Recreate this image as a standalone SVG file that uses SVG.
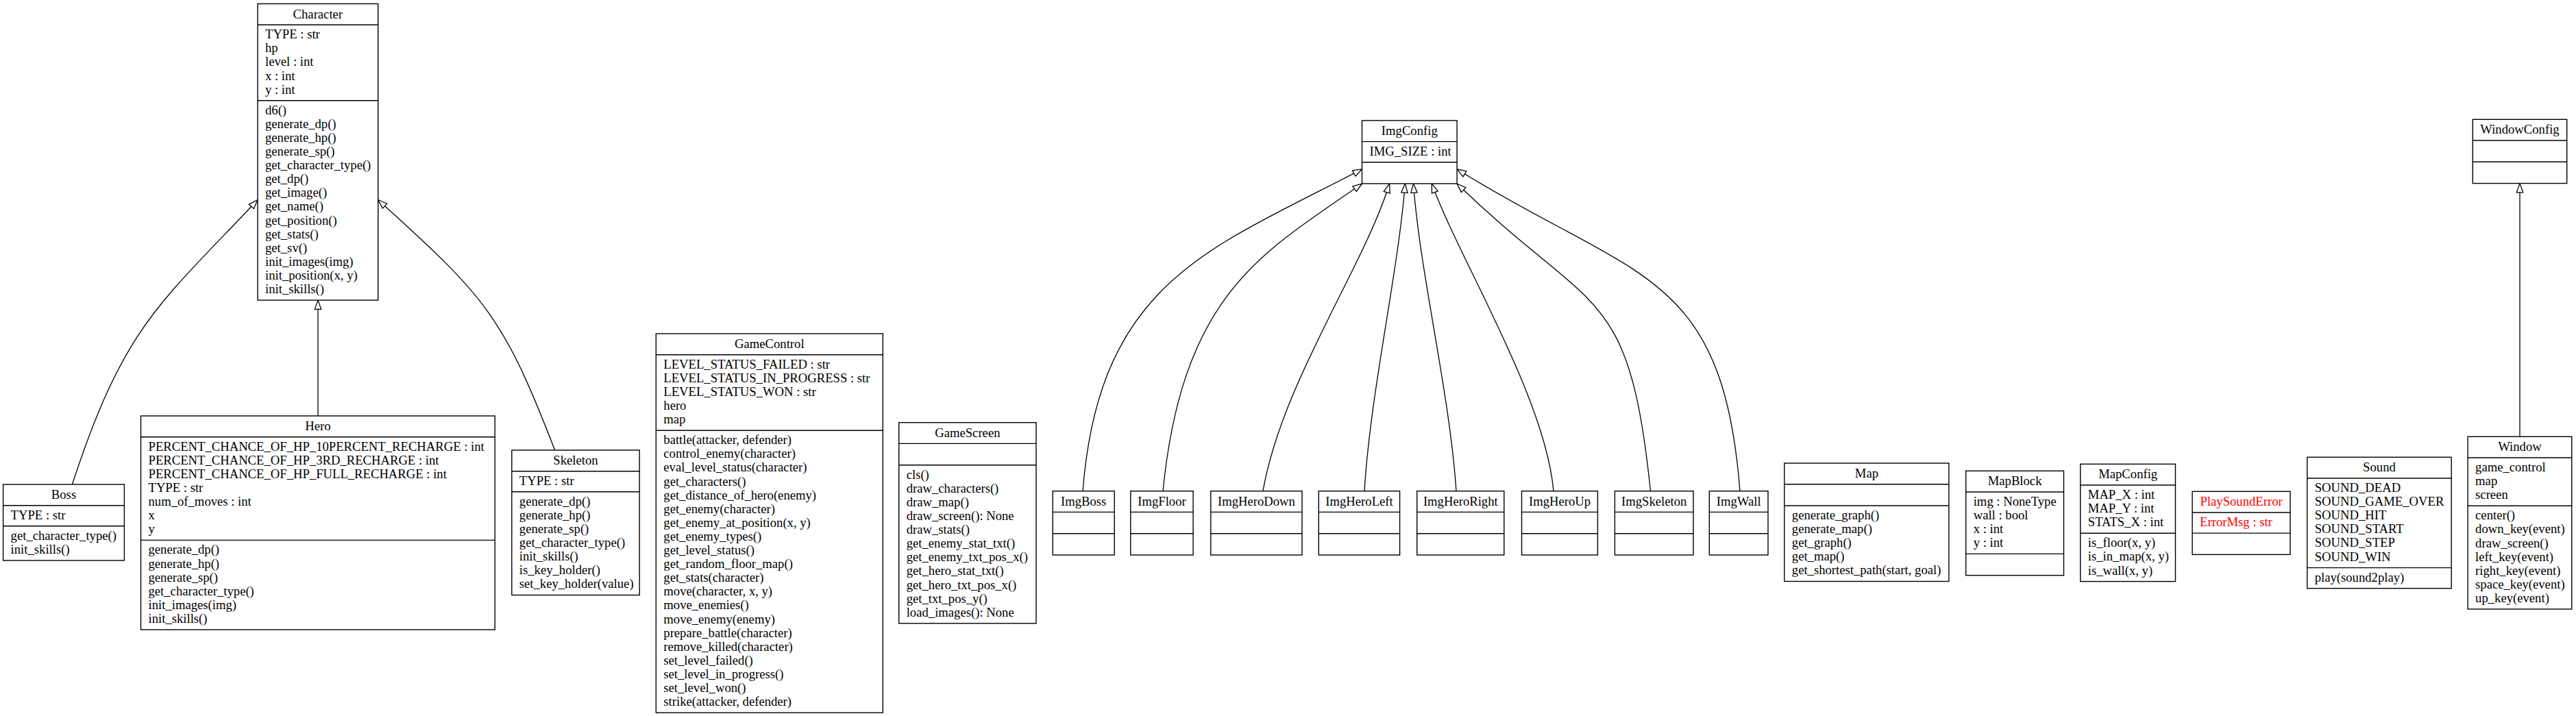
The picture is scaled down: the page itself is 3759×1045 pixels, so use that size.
<svg xmlns="http://www.w3.org/2000/svg" width="3759" height="1045" viewBox="0 0 3759 1045">
<style>
.box{fill:#fff;stroke:#000;stroke-width:1.4}
.sep{stroke:#000;stroke-width:1.4}
text{font-family:"Liberation Serif","Times New Roman",serif;font-size:18.67px;fill:#000}
.c{text-anchor:middle}
.red{fill:#ff0000}
.edge{fill:none;stroke:#000;stroke-width:1.3;marker-end:url(#inh)}
</style>
<defs>
<marker id="inh" markerUnits="userSpaceOnUse" markerWidth="16" markerHeight="12" viewBox="0 0 16 12" refX="14.3" refY="6" orient="auto">
<path d="M1,1.3 L14.3,6 L1,10.7 Z" fill="#fff" stroke="#000" stroke-width="1.3"/>
</marker>
</defs>
<rect width="3759" height="1045" fill="#fff"/>

<g id="edges">
<path class="edge" d="M105.4,707 C181.5,475.1 231.4,445.3 376,291.7"/>
<path class="edge" d="M464,607 L464,438.1"/>
<path class="edge" d="M809.7,657 C734.2,462 710.5,435.2 551.7,291.7"/>
<path class="edge" d="M1580,716.7 C1604.5,409.5 1766.3,362.8 1987.5,246.9"/>
<path class="edge" d="M1697,716.7 C1726.2,424.3 1845.6,367.6 1987.5,268"/>
<path class="edge" d="M1843,716.7 C1870,560 1990,390 2027.6,268"/>
<path class="edge" d="M1991,716.7 C2000,570 2040,400 2050.4,268"/>
<path class="edge" d="M2125,716.7 C2115,570 2072,400 2062.5,268"/>
<path class="edge" d="M2267,716.7 C2255,580 2130,380 2089.3,268"/>
<path class="edge" d="M2408.5,716.7 C2376.7,410.3 2325,461.6 2126.1,268"/>
<path class="edge" d="M2539,716.7 C2513.6,390.3 2384.7,408.6 2126.1,246.9"/>
<path class="edge" d="M3677,637.3 L3677,267.6"/>
</g>

<g id="Character">
<rect class="box" x="376" y="5.5" width="175.7" height="432.6"/>
<line class="sep" x1="376" y1="36.2" x2="551.7" y2="36.2"/>
<line class="sep" x1="376" y1="146.7" x2="551.7" y2="146.7"/>
<text class="c" x="463.85" y="26.5">Character</text>
<text x="387" y="56.2"><tspan x="387">TYPE : str</tspan><tspan x="387" dy="20.1">hp</tspan><tspan x="387" dy="20.1">level : int</tspan><tspan x="387" dy="20.1">x : int</tspan><tspan x="387" dy="20.1">y : int</tspan></text>
<text x="387" y="166.7"><tspan x="387">d6()</tspan><tspan x="387" dy="20.1">generate_dp()</tspan><tspan x="387" dy="20.1">generate_hp()</tspan><tspan x="387" dy="20.1">generate_sp()</tspan><tspan x="387" dy="20.1">get_character_type()</tspan><tspan x="387" dy="20.1">get_dp()</tspan><tspan x="387" dy="20.1">get_image()</tspan><tspan x="387" dy="20.1">get_name()</tspan><tspan x="387" dy="20.1">get_position()</tspan><tspan x="387" dy="20.1">get_stats()</tspan><tspan x="387" dy="20.1">get_sv()</tspan><tspan x="387" dy="20.1">init_images(img)</tspan><tspan x="387" dy="20.1">init_position(x, y)</tspan><tspan x="387" dy="20.1">init_skills()</tspan></text>
</g>

<g id="Boss">
<rect class="box" x="4.6" y="707" width="176.8" height="111"/>
<line class="sep" x1="4.6" y1="737.7" x2="181.4" y2="737.7"/>
<line class="sep" x1="4.6" y1="767.8" x2="181.4" y2="767.8"/>
<text class="c" x="93" y="728">Boss</text>
<text x="15.6" y="757.7">TYPE : str</text>
<text x="15.6" y="787.8"><tspan x="15.6">get_character_type()</tspan><tspan x="15.6" dy="20.1">init_skills()</tspan></text>
</g>

<g id="Hero">
<rect class="box" x="205.5" y="607" width="516.7" height="312"/>
<line class="sep" x1="205.5" y1="637.7" x2="722.2" y2="637.7"/>
<line class="sep" x1="205.5" y1="788.4" x2="722.2" y2="788.4"/>
<text class="c" x="463.85" y="628">Hero</text>
<text x="216.5" y="657.7"><tspan x="216.5">PERCENT_CHANCE_OF_HP_10PERCENT_RECHARGE : int</tspan><tspan x="216.5" dy="20.1">PERCENT_CHANCE_OF_HP_3RD_RECHARGE : int</tspan><tspan x="216.5" dy="20.1">PERCENT_CHANCE_OF_HP_FULL_RECHARGE : int</tspan><tspan x="216.5" dy="20.1">TYPE : str</tspan><tspan x="216.5" dy="20.1">num_of_moves : int</tspan><tspan x="216.5" dy="20.1">x</tspan><tspan x="216.5" dy="20.1">y</tspan></text>
<text x="216.5" y="808.4"><tspan x="216.5">generate_dp()</tspan><tspan x="216.5" dy="20.1">generate_hp()</tspan><tspan x="216.5" dy="20.1">generate_sp()</tspan><tspan x="216.5" dy="20.1">get_character_type()</tspan><tspan x="216.5" dy="20.1">init_images(img)</tspan><tspan x="216.5" dy="20.1">init_skills()</tspan></text>
</g>

<g id="Skeleton">
<rect class="box" x="746.8" y="657" width="186.4" height="211.5"/>
<line class="sep" x1="746.8" y1="687.7" x2="933.2" y2="687.7"/>
<line class="sep" x1="746.8" y1="717.8" x2="933.2" y2="717.8"/>
<text class="c" x="840" y="678">Skeleton</text>
<text x="757.8" y="707.7">TYPE : str</text>
<text x="757.8" y="737.8"><tspan x="757.8">generate_dp()</tspan><tspan x="757.8" dy="20.1">generate_hp()</tspan><tspan x="757.8" dy="20.1">generate_sp()</tspan><tspan x="757.8" dy="20.1">get_character_type()</tspan><tspan x="757.8" dy="20.1">init_skills()</tspan><tspan x="757.8" dy="20.1">is_key_holder()</tspan><tspan x="757.8" dy="20.1">set_key_holder(value)</tspan></text>
</g>

<g id="GameControl">
<rect class="box" x="957.3" y="487" width="331" height="553.2"/>
<line class="sep" x1="957.3" y1="517.7" x2="1288.3" y2="517.7"/>
<line class="sep" x1="957.3" y1="628.2" x2="1288.3" y2="628.2"/>
<text class="c" x="1122.8" y="508">GameControl</text>
<text x="968.3" y="537.7"><tspan x="968.3">LEVEL_STATUS_FAILED : str</tspan><tspan x="968.3" dy="20.1">LEVEL_STATUS_IN_PROGRESS : str</tspan><tspan x="968.3" dy="20.1">LEVEL_STATUS_WON : str</tspan><tspan x="968.3" dy="20.1">hero</tspan><tspan x="968.3" dy="20.1">map</tspan></text>
<text x="968.3" y="648.2"><tspan x="968.3">battle(attacker, defender)</tspan><tspan x="968.3" dy="20.1">control_enemy(character)</tspan><tspan x="968.3" dy="20.1">eval_level_status(character)</tspan><tspan x="968.3" dy="20.1">get_characters()</tspan><tspan x="968.3" dy="20.1">get_distance_of_hero(enemy)</tspan><tspan x="968.3" dy="20.1">get_enemy(character)</tspan><tspan x="968.3" dy="20.1">get_enemy_at_position(x, y)</tspan><tspan x="968.3" dy="20.1">get_enemy_types()</tspan><tspan x="968.3" dy="20.1">get_level_status()</tspan><tspan x="968.3" dy="20.1">get_random_floor_map()</tspan><tspan x="968.3" dy="20.1">get_stats(character)</tspan><tspan x="968.3" dy="20.1">move(character, x, y)</tspan><tspan x="968.3" dy="20.1">move_enemies()</tspan><tspan x="968.3" dy="20.1">move_enemy(enemy)</tspan><tspan x="968.3" dy="20.1">prepare_battle(character)</tspan><tspan x="968.3" dy="20.1">remove_killed(character)</tspan><tspan x="968.3" dy="20.1">set_level_failed()</tspan><tspan x="968.3" dy="20.1">set_level_in_progress()</tspan><tspan x="968.3" dy="20.1">set_level_won()</tspan><tspan x="968.3" dy="20.1">strike(attacker, defender)</tspan></text>
</g>

<g id="GameScreen">
<rect class="box" x="1311.7" y="616.7" width="200.3" height="293.1"/>
<line class="sep" x1="1311.7" y1="647.4" x2="1512" y2="647.4"/>
<line class="sep" x1="1311.7" y1="678.7" x2="1512" y2="678.7"/>
<text class="c" x="1411.85" y="637.7">GameScreen</text>
<text x="1322.7" y="698.7"><tspan x="1322.7">cls()</tspan><tspan x="1322.7" dy="20.1">draw_characters()</tspan><tspan x="1322.7" dy="20.1">draw_map()</tspan><tspan x="1322.7" dy="20.1">draw_screen(): None</tspan><tspan x="1322.7" dy="20.1">draw_stats()</tspan><tspan x="1322.7" dy="20.1">get_enemy_stat_txt()</tspan><tspan x="1322.7" dy="20.1">get_enemy_txt_pos_x()</tspan><tspan x="1322.7" dy="20.1">get_hero_stat_txt()</tspan><tspan x="1322.7" dy="20.1">get_hero_txt_pos_x()</tspan><tspan x="1322.7" dy="20.1">get_txt_pos_y()</tspan><tspan x="1322.7" dy="20.1">load_images(): None</tspan></text>
</g>

<g id="ImgConfig">
<rect class="box" x="1987.5" y="175.9" width="138.6" height="92.1"/>
<line class="sep" x1="1987.5" y1="206.6" x2="2126.1" y2="206.6"/>
<line class="sep" x1="1987.5" y1="236.7" x2="2126.1" y2="236.7"/>
<text class="c" x="2056.8" y="196.9">ImgConfig</text>
<text x="1998.5" y="226.6">IMG_SIZE : int</text>
</g>

<g id="ImgBoss">
<rect class="box" x="1536.2" y="716.7" width="90" height="93.3"/>
<line class="sep" x1="1536.2" y1="747.4" x2="1626.2" y2="747.4"/>
<line class="sep" x1="1536.2" y1="778.7" x2="1626.2" y2="778.7"/>
<text class="c" x="1581.2" y="737.7">ImgBoss</text>
</g>
<g id="ImgFloor">
<rect class="box" x="1649.8" y="716.7" width="91.3" height="93.3"/>
<line class="sep" x1="1649.8" y1="747.4" x2="1741.1" y2="747.4"/>
<line class="sep" x1="1649.8" y1="778.7" x2="1741.1" y2="778.7"/>
<text class="c" x="1695.5" y="737.7">ImgFloor</text>
</g>
<g id="ImgHeroDown">
<rect class="box" x="1766.8" y="716.7" width="133.2" height="93.3"/>
<line class="sep" x1="1766.8" y1="747.4" x2="1900" y2="747.4"/>
<line class="sep" x1="1766.8" y1="778.7" x2="1900" y2="778.7"/>
<text class="c" x="1833.4" y="737.7">ImgHeroDown</text>
</g>
<g id="ImgHeroLeft">
<rect class="box" x="1924.3" y="716.7" width="118.3" height="93.3"/>
<line class="sep" x1="1924.3" y1="747.4" x2="2042.6" y2="747.4"/>
<line class="sep" x1="1924.3" y1="778.7" x2="2042.6" y2="778.7"/>
<text class="c" x="1983.5" y="737.7">ImgHeroLeft</text>
</g>
<g id="ImgHeroRight">
<rect class="box" x="2067.7" y="716.7" width="127.1" height="93.3"/>
<line class="sep" x1="2067.7" y1="747.4" x2="2194.8" y2="747.4"/>
<line class="sep" x1="2067.7" y1="778.7" x2="2194.8" y2="778.7"/>
<text class="c" x="2131.3" y="737.7">ImgHeroRight</text>
</g>
<g id="ImgHeroUp">
<rect class="box" x="2220.5" y="716.7" width="110.9" height="93.3"/>
<line class="sep" x1="2220.5" y1="747.4" x2="2331.4" y2="747.4"/>
<line class="sep" x1="2220.5" y1="778.7" x2="2331.4" y2="778.7"/>
<text class="c" x="2276" y="737.7">ImgHeroUp</text>
</g>
<g id="ImgSkeleton">
<rect class="box" x="2356.4" y="716.7" width="114.6" height="93.3"/>
<line class="sep" x1="2356.4" y1="747.4" x2="2471" y2="747.4"/>
<line class="sep" x1="2356.4" y1="778.7" x2="2471" y2="778.7"/>
<text class="c" x="2413.7" y="737.7">ImgSkeleton</text>
</g>
<g id="ImgWall">
<rect class="box" x="2494.3" y="716.7" width="85.7" height="93.3"/>
<line class="sep" x1="2494.3" y1="747.4" x2="2580" y2="747.4"/>
<line class="sep" x1="2494.3" y1="778.7" x2="2580" y2="778.7"/>
<text class="c" x="2537.2" y="737.7">ImgWall</text>
</g>

<g id="Map">
<rect class="box" x="2603.8" y="676" width="240.1" height="172.5"/>
<line class="sep" x1="2603.8" y1="706.7" x2="2843.9" y2="706.7"/>
<line class="sep" x1="2603.8" y1="738" x2="2843.9" y2="738"/>
<text class="c" x="2723.9" y="697">Map</text>
<text x="2614.8" y="758"><tspan x="2614.8">generate_graph()</tspan><tspan x="2614.8" dy="20.1">generate_map()</tspan><tspan x="2614.8" dy="20.1">get_graph()</tspan><tspan x="2614.8" dy="20.1">get_map()</tspan><tspan x="2614.8" dy="20.1">get_shortest_path(start, goal)</tspan></text>
</g>

<g id="MapBlock">
<rect class="box" x="2868.7" y="687.3" width="142.8" height="152.4"/>
<line class="sep" x1="2868.7" y1="718" x2="3011.5" y2="718"/>
<line class="sep" x1="2868.7" y1="808.4" x2="3011.5" y2="808.4"/>
<text class="c" x="2940.1" y="708.3">MapBlock</text>
<text x="2879.7" y="738"><tspan x="2879.7">img : NoneType</tspan><tspan x="2879.7" dy="20.1">wall : bool</tspan><tspan x="2879.7" dy="20.1">x : int</tspan><tspan x="2879.7" dy="20.1">y : int</tspan></text>
</g>

<g id="MapConfig">
<rect class="box" x="3035.8" y="677.3" width="138.7" height="171.3"/>
<line class="sep" x1="3035.8" y1="708" x2="3174.5" y2="708"/>
<line class="sep" x1="3035.8" y1="778.3" x2="3174.5" y2="778.3"/>
<text class="c" x="3105.2" y="698.3">MapConfig</text>
<text x="3046.8" y="728"><tspan x="3046.8">MAP_X : int</tspan><tspan x="3046.8" dy="20.1">MAP_Y : int</tspan><tspan x="3046.8" dy="20.1">STATS_X : int</tspan></text>
<text x="3046.8" y="798.3"><tspan x="3046.8">is_floor(x, y)</tspan><tspan x="3046.8" dy="20.1">is_in_map(x, y)</tspan><tspan x="3046.8" dy="20.1">is_wall(x, y)</tspan></text>
</g>

<g id="PlaySoundError">
<rect class="box" x="3199.1" y="717.3" width="142.9" height="92.1"/>
<line class="sep" x1="3199.1" y1="748" x2="3342" y2="748"/>
<line class="sep" x1="3199.1" y1="778.1" x2="3342" y2="778.1"/>
<text class="c red" x="3270.6" y="738.3">PlaySoundError</text>
<text class="red" x="3210.1" y="768">ErrorMsg : str</text>
</g>

<g id="Sound">
<rect class="box" x="3366.7" y="667.3" width="210.5" height="191.4"/>
<line class="sep" x1="3366.7" y1="698" x2="3577.2" y2="698"/>
<line class="sep" x1="3366.7" y1="828.6" x2="3577.2" y2="828.6"/>
<text class="c" x="3471.95" y="688.3">Sound</text>
<text x="3377.7" y="718"><tspan x="3377.7">SOUND_DEAD</tspan><tspan x="3377.7" dy="20.1">SOUND_GAME_OVER</tspan><tspan x="3377.7" dy="20.1">SOUND_HIT</tspan><tspan x="3377.7" dy="20.1">SOUND_START</tspan><tspan x="3377.7" dy="20.1">SOUND_STEP</tspan><tspan x="3377.7" dy="20.1">SOUND_WIN</tspan></text>
<text x="3377.7" y="848.6">play(sound2play)</text>
</g>

<g id="Window">
<rect class="box" x="3601.1" y="637.3" width="151.7" height="251.7"/>
<line class="sep" x1="3601.1" y1="668" x2="3752.8" y2="668"/>
<line class="sep" x1="3601.1" y1="738.3" x2="3752.8" y2="738.3"/>
<text class="c" x="3676.95" y="658.3">Window</text>
<text x="3612.1" y="688"><tspan x="3612.1">game_control</tspan><tspan x="3612.1" dy="20.1">map</tspan><tspan x="3612.1" dy="20.1">screen</tspan></text>
<text x="3612.1" y="758.3"><tspan x="3612.1">center()</tspan><tspan x="3612.1" dy="20.1">down_key(event)</tspan><tspan x="3612.1" dy="20.1">draw_screen()</tspan><tspan x="3612.1" dy="20.1">left_key(event)</tspan><tspan x="3612.1" dy="20.1">right_key(event)</tspan><tspan x="3612.1" dy="20.1">space_key(event)</tspan><tspan x="3612.1" dy="20.1">up_key(event)</tspan></text>
</g>

<g id="WindowConfig">
<rect class="box" x="3608.3" y="174.3" width="137.4" height="93.3"/>
<line class="sep" x1="3608.3" y1="205" x2="3745.7" y2="205"/>
<line class="sep" x1="3608.3" y1="236.3" x2="3745.7" y2="236.3"/>
<text class="c" x="3677" y="195.3">WindowConfig</text>
</g>
</svg>
